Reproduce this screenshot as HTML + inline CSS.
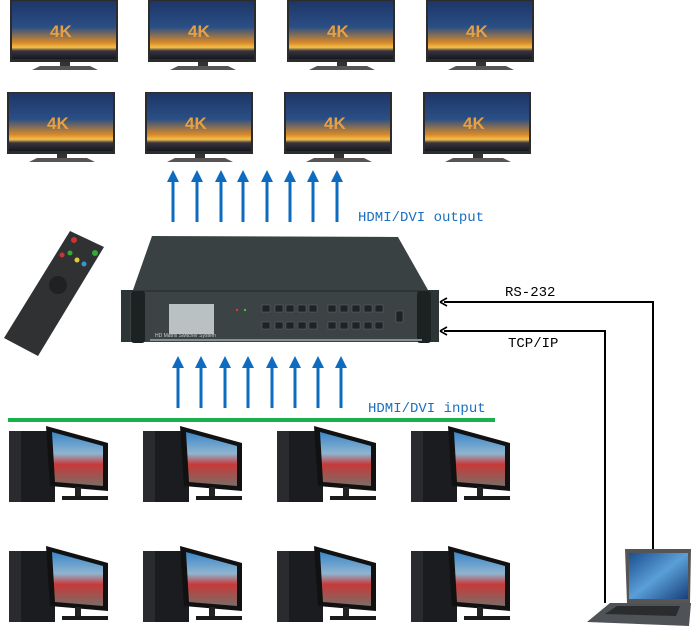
<!DOCTYPE html>
<html><head><meta charset="utf-8"><style>
html,body{margin:0;padding:0;background:#fff;width:693px;height:631px;overflow:hidden}
svg{display:block}
.lbl{font-family:"Liberation Mono","Noto Serif CJK SC",monospace;font-size:14px}
</style></head><body>
<svg width="693" height="631" viewBox="0 0 693 631" xmlns="http://www.w3.org/2000/svg">
<defs>
<linearGradient id="sky" x1="0" y1="0" x2="0" y2="1">
<stop offset="0" stop-color="#1d3566"/><stop offset="0.45" stop-color="#2a4f85"/>
<stop offset="0.72" stop-color="#d98a2a"/><stop offset="0.8" stop-color="#f3c24a"/>
<stop offset="0.86" stop-color="#3a3440"/><stop offset="1" stop-color="#14181f"/></linearGradient>
<linearGradient id="race" x1="0" y1="0" x2="0" y2="1">
<stop offset="0" stop-color="#3a86c8"/><stop offset="0.4" stop-color="#8fb5d0"/><stop offset="0.6" stop-color="#c73a3a"/><stop offset="1" stop-color="#7a6d66"/></linearGradient>
<linearGradient id="lap" x1="0" y1="0" x2="1" y2="1">
<stop offset="0" stop-color="#1c4f90"/><stop offset="0.5" stop-color="#5a9fd8"/><stop offset="1" stop-color="#173f7a"/></linearGradient>
<g id="tv">
<rect x="0" y="0" width="108" height="62" fill="#2c2c2c"/>
<rect x="2" y="1" width="104" height="58" fill="url(#sky)"/>
<text x="40" y="37" font-family="Liberation Sans,sans-serif" font-weight="bold" font-size="17" fill="#e8a040">4K</text>
<rect x="50" y="62" width="10" height="4" fill="#333"/>
<path d="M30 66 L80 66 L88 70 L22 70 Z" fill="#555"/>
</g>
<g id="pc">
<rect x="9" y="431" width="46" height="71" fill="#1b1c1f"/>
<rect x="9" y="431" width="12" height="71" fill="#2a2b2f"/>
<path d="M46 426 L108 443 L108 491 L50 486 Z" fill="#111"/>
<path d="M52 432 L103 446 L103 486 L55 482 Z" fill="url(#race)"/>
<rect x="75" y="487" width="6" height="10" fill="#222"/>
<rect x="62" y="496" width="46" height="4" fill="#1a1a1a"/>
</g>
<marker id="ab" markerWidth="8" markerHeight="8" refX="4" refY="4" orient="auto"><path d="M0 0 L8 4 L0 8 Z" fill="#0d6cc0"/></marker>
</defs>

<use href="#tv" x="10" y="0"/><use href="#tv" x="148" y="0"/><use href="#tv" x="287" y="0"/><use href="#tv" x="426" y="0"/>
<use href="#tv" x="7" y="92"/><use href="#tv" x="145" y="92"/><use href="#tv" x="284" y="92"/><use href="#tv" x="423" y="92"/>

<g stroke="#0d6cc0" stroke-width="3" fill="none">
<line x1="173" y1="222" x2="173" y2="180"/><line x1="197" y1="222" x2="197" y2="180"/><line x1="221" y1="222" x2="221" y2="180"/><line x1="243" y1="222" x2="243" y2="180"/>
<line x1="267" y1="222" x2="267" y2="180"/><line x1="290" y1="222" x2="290" y2="180"/><line x1="313" y1="222" x2="313" y2="180"/><line x1="337" y1="222" x2="337" y2="180"/>
<line x1="178" y1="408" x2="178" y2="366"/><line x1="201" y1="408" x2="201" y2="366"/><line x1="225" y1="408" x2="225" y2="366"/><line x1="248" y1="408" x2="248" y2="366"/>
<line x1="272" y1="408" x2="272" y2="366"/><line x1="295" y1="408" x2="295" y2="366"/><line x1="318" y1="408" x2="318" y2="366"/><line x1="341" y1="408" x2="341" y2="366"/>
</g>
<g fill="#0d6cc0">
<path d="M167 182 L173 170 L179 182Z"/><path d="M191 182 L197 170 L203 182Z"/><path d="M215 182 L221 170 L227 182Z"/><path d="M237 182 L243 170 L249 182Z"/>
<path d="M261 182 L267 170 L273 182Z"/><path d="M284 182 L290 170 L296 182Z"/><path d="M307 182 L313 170 L319 182Z"/><path d="M331 182 L337 170 L343 182Z"/>
<path d="M172 368 L178 356 L184 368Z"/><path d="M195 368 L201 356 L207 368Z"/><path d="M219 368 L225 356 L231 368Z"/><path d="M242 368 L248 356 L254 368Z"/>
<path d="M266 368 L272 356 L278 368Z"/><path d="M289 368 L295 356 L301 368Z"/><path d="M312 368 L318 356 L324 368Z"/><path d="M335 368 L341 356 L347 368Z"/>
</g>
<text class="lbl" x="358" y="221" fill="#1a6fc0">HDMI/DVI output</text>
<text class="lbl" x="368" y="412" fill="#1a6fc0">HDMI/DVI input</text>

<!-- matrix -->
<path d="M152 236 L398 237 L428 290 L133 290 Z" fill="#3a4142"/>
<rect x="121" y="290" width="318" height="52" fill="#2e3536"/>
<rect x="130" y="292" width="300" height="50" fill="#3b4344"/>
<rect x="131" y="291" width="14" height="52" rx="3" fill="#1c2122"/>
<rect x="417" y="291" width="14" height="52" rx="3" fill="#1c2122"/>
<rect x="169" y="304" width="45" height="30" fill="#b9c1c3"/>
<rect x="150" y="339" width="272" height="2" fill="#8a9193"/>
<text x="155" y="337" font-family="Liberation Sans,sans-serif" font-size="5" fill="#ccc">HD Matrix Switcher System</text>
<g fill="#1e2425" stroke="#667" stroke-width="0.5">
<rect x="262" y="305" width="8" height="7"/><rect x="286" y="305" width="8" height="7"/><rect x="275" y="305" width="8" height="7"/><rect x="298" y="305" width="8" height="7"/><rect x="309" y="305" width="8" height="7"/>
<rect x="262" y="322" width="8" height="7"/><rect x="275" y="322" width="8" height="7"/><rect x="286" y="322" width="8" height="7"/><rect x="298" y="322" width="8" height="7"/><rect x="309" y="322" width="8" height="7"/>
<rect x="328" y="305" width="8" height="7"/><rect x="340" y="305" width="8" height="7"/><rect x="352" y="305" width="8" height="7"/><rect x="364" y="305" width="8" height="7"/><rect x="375" y="305" width="8" height="7"/>
<rect x="328" y="322" width="8" height="7"/><rect x="340" y="322" width="8" height="7"/><rect x="352" y="322" width="8" height="7"/><rect x="364" y="322" width="8" height="7"/><rect x="375" y="322" width="8" height="7"/>
<rect x="396" y="311" width="7" height="11"/></g>
<circle cx="237" cy="310" r="1.2" fill="#e33"/><circle cx="245" cy="310" r="1.2" fill="#3c3"/>

<!-- remote -->
<path d="M70 231 L104 247 L38 356 L4 338 Z" fill="#2f3133"/>
<circle cx="74" cy="240" r="3" fill="#c33"/><circle cx="95" cy="253" r="3" fill="#3a3"/>
<circle cx="70" cy="253" r="2.5" fill="#3a3"/><circle cx="77" cy="260" r="2.5" fill="#dc3"/><circle cx="84" cy="264" r="2.5" fill="#39c"/><circle cx="62" cy="255" r="2.5" fill="#c33"/>
<circle cx="58" cy="285" r="9" fill="#1f2123"/>

<!-- control lines -->
<g stroke="#000" stroke-width="2" fill="none">
<polyline points="653,550 653,302 444,302"/>
<polyline points="605,603 605,331 444,331"/>
</g>
<path d="M440 302 L447 298 M440 302 L447 306 M440 331 L447 327 M440 331 L447 335" stroke="#000" stroke-width="1.6"/>
<text class="lbl" x="505" y="296" fill="#000">RS-232</text>
<text class="lbl" x="508" y="347" fill="#000">TCP/IP</text>

<!-- laptop -->
<path d="M625 549 L691 549 L690 603 L627 603 Z" fill="#555"/>
<rect x="629" y="553" width="59" height="46" fill="url(#lap)"/>
<path d="M610 603 L691 603 L689 626 L587 622 Z" fill="#4f5256"/>
<path d="M617 606 L680 606 L676 616 L605 614 Z" fill="#2a2c2e"/>

<rect x="8" y="418" width="487" height="4" fill="#19b24a"/>

<use href="#pc" x="0" y="0"/><use href="#pc" x="134" y="0"/><use href="#pc" x="268" y="0"/><use href="#pc" x="402" y="0"/>
<use href="#pc" x="0" y="120"/><use href="#pc" x="134" y="120"/><use href="#pc" x="268" y="120"/><use href="#pc" x="402" y="120"/>
</svg>
</body></html>
